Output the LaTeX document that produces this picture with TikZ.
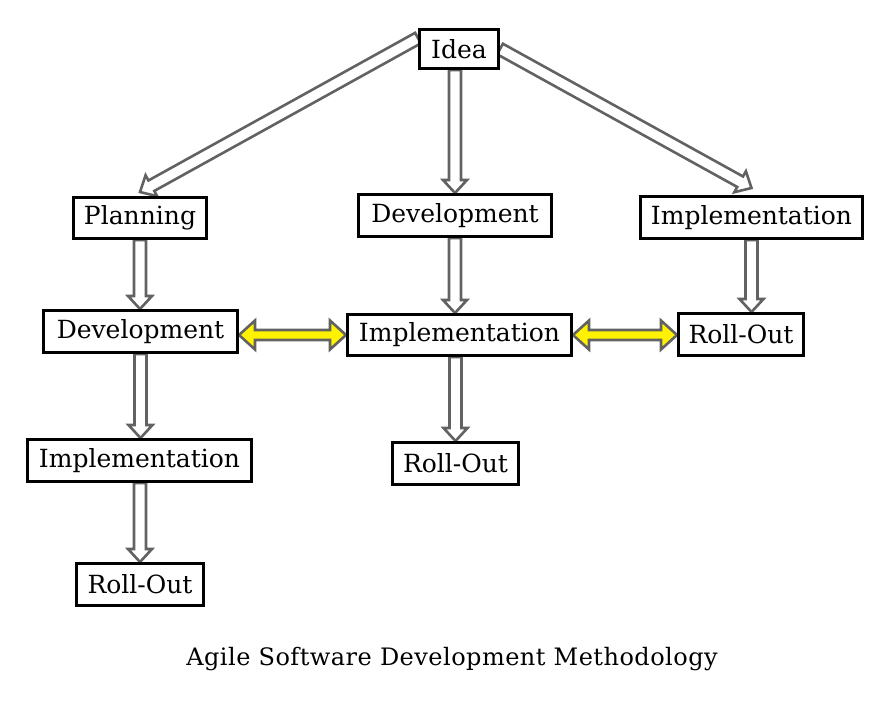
\documentclass[tikz,border=0pt]{standalone}
\usepackage{fontspec}
\setmainfont{DejaVu Serif}
\usetikzlibrary{shapes,positioning,calc,backgrounds}
\definecolor{arrowgray}{HTML}{626262}
\tikzstyle{box} = [draw, line width=3pt, fill=white, inner sep=0pt, font=\fontsize{25}{30}\selectfont]
\tikzstyle{hollowarrow} = [draw=arrowgray, fill=white, line width=2.6pt, line join=miter]
\tikzstyle{yellowarrow} = [draw=arrowgray, fill=yellow, line width=2.6pt, line join=miter]
\tikzset{
	oneway/.style={to path={let \p1=($(\tikztotarget)!13pt!(\tikztostart)$) in
		($(\tikztostart)!6pt!90:(\tikztotarget)$) -- ($(\p1)!6pt!90:(\tikztotarget)$) -- ($(\p1)!12pt!90:(\tikztotarget)$)
		-- (\tikztotarget)
		-- ($(\p1)!12pt!-90:(\tikztotarget)$) -- ($(\p1)!6pt!-90:(\tikztotarget)$) -- ($(\tikztostart)!6pt!-90:(\tikztotarget)$) -- cycle}},
	twoway/.style={to path={let \p1=($(\tikztostart)!16pt!(\tikztotarget)$), \p2=($(\tikztotarget)!16pt!(\tikztostart)$) in
		(\tikztostart) -- ($(\p1)!14.5pt!90:(\tikztotarget)$) -- ($(\p1)!5pt!90:(\tikztotarget)$)
		-- ($(\p2)!5pt!-90:(\tikztostart)$) -- ($(\p2)!14.5pt!-90:(\tikztostart)$) -- (\tikztotarget)
		-- ($(\p2)!14.5pt!90:(\tikztostart)$) -- ($(\p2)!5pt!90:(\tikztostart)$)
		-- ($(\p1)!5pt!-90:(\tikztotarget)$) -- ($(\p1)!14.5pt!-90:(\tikztotarget)$) -- cycle}}
}

\begin{document}
\begin{tikzpicture}[x=1pt,y=-1pt]
	\useasboundingbox (0,0) rectangle (887,704);
	% boxes
	\node[box, minimum width=79, minimum height=39] (idea) at (459,49) {Idea};
	\node[box, minimum width=133, minimum height=41] (plan) at (140,218) {Planning};
	\node[box, minimum width=193, minimum height=42] (dev1) at (455,215.5) {Development};
	\node[box, minimum width=222, minimum height=42] (impl1) at (751.5,217.5) {Implementation};
	\node[box, minimum width=194, minimum height=42] (dev2) at (140.5,331.5) {Development};
	\node[box, minimum width=224, minimum height=41] (impl2) at (459.5,335) {Implementation};
	\node[box, minimum width=125, minimum height=42] (roll1) at (741,334.5) {Roll-Out};
	\node[box, minimum width=224, minimum height=42] (impl3) at (139.5,460.5) {Implementation};
	\node[box, minimum width=126, minimum height=42] (roll2) at (455.5,463.5) {Roll-Out};
	\node[box, minimum width=127, minimum height=42] (roll3) at (140,584.5) {Roll-Out};
	\node[font=\fontsize{24}{28}\selectfont\addfontfeature{LetterSpace=2}] (title) at (452,659) {Agile Software Development Methodology};
	% arrows
	\begin{scope}[on background layer]
		\draw[hollowarrow] ($(idea.north west)!0.24!(idea.south west)$) to[oneway] ([yshift=4pt]plan.north);
		\draw[hollowarrow] (idea.south -| dev1.north) to[oneway] (dev1.north);
		\draw[hollowarrow] (idea.east) to[oneway] ([yshift=7pt]impl1.north);
		\draw[hollowarrow] (plan.south) to[oneway] (dev2.north -| plan.south);
		\draw[hollowarrow] (dev2.south) to[oneway] (impl3.north -| dev2.south);
		\draw[hollowarrow] (impl3.south -| roll3.north) to[oneway] (roll3.north);
		\draw[hollowarrow] (dev1.south) to[oneway] (impl2.north -| dev1.south);
		\draw[hollowarrow] (impl2.south -| roll2.north) to[oneway] (roll2.north);
		\draw[hollowarrow] (impl1.south) to[oneway] (roll1.north -| impl1.south);
		\draw[yellowarrow] (dev2.east |- impl2.west) to[twoway] (impl2.west);
		\draw[yellowarrow] (impl2.east) to[twoway] (roll1.west |- impl2.east);
	\end{scope}
\end{tikzpicture}
\end{document}
